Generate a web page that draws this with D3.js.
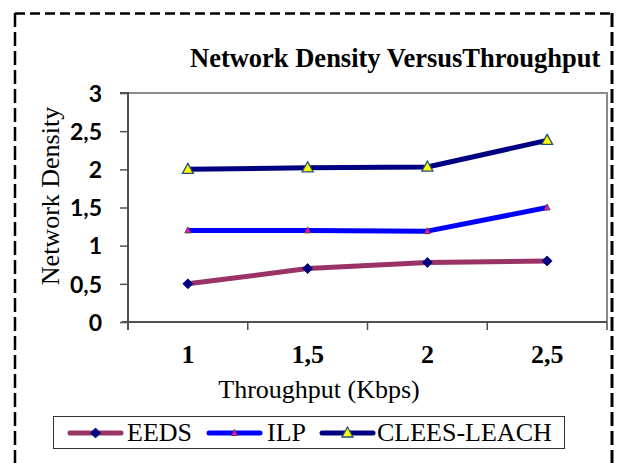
<!DOCTYPE html>
<html><head><meta charset="utf-8">
<script src="https://cdn.jsdelivr.net/npm/d3@7"></script>
<style>html,body{margin:0;padding:0;background:#fff;}svg{display:block;}</style>
</head><body>
<svg id="c" width="621" height="463"></svg>
<script>
const categories = ["1", "1,5", "2", "2,5"];
const eeds = [0.5, 0.7, 0.78, 0.8];
const ilp = [1.2, 1.2, 1.19, 1.5];
const clees = [2.0, 2.02, 2.03, 2.38];
const yTicks = [0, 0.5, 1, 1.5, 2, 2.5, 3];
const yTickLabels = ["0", "0,5", "1", "1,5", "2", "2,5", "3"];
const seriesNames = ["EEDS", "ILP", "CLEES-LEACH"];

const svg = d3.select("#c");
const L = 128, R = 607, T = 93, B = 322;
const x = d3.scaleBand().domain(categories).range([L, R]);
const y = d3.scaleLinear().domain([0, 3]).range([B, T]);
const serif = "'Liberation Serif', 'Times New Roman', serif";

// outer dashed frame
svg.append("line").attr("x1", 15).attr("x2", 612).attr("y1", 13.5).attr("y2", 13.5)
  .attr("stroke", "#000").attr("stroke-width", 2.5).attr("stroke-dasharray", "10,5");
svg.append("line").attr("x1", 15).attr("x2", 15).attr("y1", 13).attr("y2", 463)
  .attr("stroke", "#000").attr("stroke-width", 2.5).attr("stroke-dasharray", "14,5");
svg.append("line").attr("x1", 612).attr("x2", 612).attr("y1", 13).attr("y2", 463)
  .attr("stroke", "#000").attr("stroke-width", 3).attr("stroke-dasharray", "14,5");

// title
svg.append("text").attr("x", 190).attr("y", 67)
  .attr("font-family", serif)
  .attr("font-weight", "bold").attr("font-size", 26.5)
  .text("Network Density VersusThroughput");

// plot border (top/right)
svg.append("path").attr("d", `M${L},${T}H${R}V${B}`)
  .attr("fill", "none").attr("stroke", "#8c8c8c").attr("stroke-width", 2);

// y axis
const yAxis = d3.axisLeft(y).tickValues(yTicks).tickSize(8).tickFormat((d, i) => yTickLabels[i]);
const gy = svg.append("g").attr("transform", `translate(${L},0)`).call(yAxis);
gy.select(".domain").attr("stroke", "#505050").attr("stroke-width", 2).attr("d", `M-8,${T}H0V${B + 8}`);
gy.selectAll(".tick line").attr("stroke", "#505050").attr("stroke-width", 1.5);
gy.selectAll(".tick text").attr("x", -26).attr("dy", "0.36em")
  .attr("font-family", "Lato, sans-serif").attr("font-weight", "bold").attr("font-size", 23).attr("fill", "#000");

// x axis
const xAxis = d3.axisBottom(x).tickSize(0).tickFormat(d => d);
const gx = svg.append("g").attr("transform", `translate(0,${B})`).call(xAxis);
gx.select(".domain").attr("stroke", "#505050").attr("stroke-width", 2).attr("d", `M${L - 6},0H${R}`);
gx.selectAll(".tick text").attr("y", 41).attr("dy", 0)
  .attr("font-family", serif).attr("font-weight", "bold")
  .attr("font-size", 26).attr("fill", "#000");
// category boundary ticks
const bounds = categories.map(c => x(c)).concat([R]);
svg.append("g").selectAll("line").data(bounds).join("line")
  .attr("x1", d => d).attr("x2", d => d).attr("y1", B).attr("y2", B + 8)
  .attr("stroke", "#505050").attr("stroke-width", 1.5);

// axis titles
svg.append("text").attr("x", 319).attr("y", 398).attr("text-anchor", "middle")
  .attr("font-family", serif).attr("font-size", 26)
  .text("Throughput (Kbps)");
svg.append("text").attr("transform", "translate(59,196) rotate(-90)").attr("text-anchor", "middle")
  .attr("font-family", serif).attr("font-size", 26)
  .text("Network Density");

const cx = d => x(d) + x.bandwidth() / 2;
const line = d3.line().x(d => cx(d.c)).y(d => y(d.v));
const series = [
  { name: seriesNames[0], values: eeds, color: "#993366", marker: "diamond" },
  { name: seriesNames[1], values: ilp, color: "#0000ff", marker: "small" },
  { name: seriesNames[2], values: clees, color: "#000080", marker: "tri" }
];

function drawMarker(g, type, px, py) {
  if (type === "diamond") {
    g.append("path").attr("d", `M${px},${py - 5}L${px + 5},${py}L${px},${py + 5}L${px - 5},${py}Z`)
      .attr("fill", "#000080").attr("stroke", "#000080").attr("stroke-width", 0.8);
  } else if (type === "small") {
    g.append("path").attr("d", `M${px},${py - 3.5}L${px + 3},${py + 2.5}L${px - 3},${py + 2.5}Z`)
      .attr("fill", "#ff00ff").attr("stroke", "#5a4a1a").attr("stroke-width", 1);
  } else {
    g.append("path").attr("d", `M${px},${py - 6}L${px + 5.5},${py + 4}L${px - 5.5},${py + 4}Z`)
      .attr("fill", "#ffff00").attr("stroke", "#1f4e79").attr("stroke-width", 1.3);
  }
}

series.forEach(s => {
  const pts = categories.map((c, i) => ({ c, v: s.values[i] }));
  svg.append("path").datum(pts).attr("d", line).attr("fill", "none")
    .attr("stroke", s.color).attr("stroke-width", 5).attr("stroke-linejoin", "round");
  const g = svg.append("g");
  pts.forEach(p => drawMarker(g, s.marker, cx(p.c), y(p.v)));
});

// legend
svg.append("rect").attr("x", 53.5).attr("y", 416.5).attr("width", 511).attr("height", 32)
  .attr("fill", "#fff").attr("stroke", "#333").attr("stroke-width", 1);
const legX = [[70, 121, 127], [209, 260, 267], [322, 373, 377]];
series.forEach((s, i) => {
  const [a, b, t] = legX[i];
  const g = svg.append("g");
  g.append("line").attr("x1", a).attr("x2", b).attr("y1", 433).attr("y2", 433)
    .attr("stroke", s.color).attr("stroke-width", 5).attr("stroke-linecap", "round");
  drawMarker(g, s.marker, (a + b) / 2, 433);
  g.append("text").attr("x", t).attr("y", 441)
    .attr("font-family", serif).attr("font-size", 26)
    .text(s.name);
});
</script>
</body></html>
